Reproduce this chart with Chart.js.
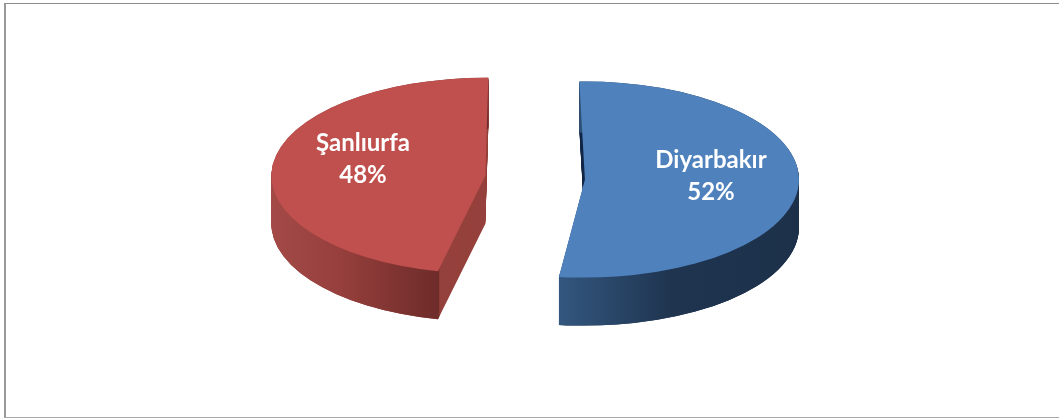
<!DOCTYPE html>
<html>
<head>
<meta charset="utf-8">
<title>Şanlıurfa / Diyarbakır</title>
<script src="https://cdn.jsdelivr.net/npm/chart.js@4"></script>
<style>
html,body{margin:0;padding:0;background:#fff;overflow:hidden}
#wrap{position:relative;width:1059px;height:419px}
canvas{display:block;position:absolute;left:0;top:0}
#frame{position:absolute;left:4px;top:3px;width:1060px;height:413px;border-left:2px solid #9a9a9a;border-top:1px solid #8c8c8c;border-bottom:1px solid #a8a8a8}
</style>
</head>
<body>
<div id="wrap">
<div id="frame"></div>
<canvas id="c" width="1059" height="419"></canvas>
</div>
<script>
const categories = ['Diyarbakır', 'Şanlıurfa'];
const shares = [52, 48];
const sliceColors = ['#4F81BD', '#C0504D'];

const FLATTEN = 0.458, DEPTH = 48, EXPLODE = 50, RIM = 7;
// apparent slice edges after the 3D tilt, degrees clockwise from the top
const tiltedEdges = [[-1.5, 187], [192.8, 360.8]];
const cutColors = ['#15294a', '#95403c'];
const wallStops = [
  [[558, '#33577f'], [670, '#1f3550'], [800, '#1c3049']],
  [[272, '#a34a47'], [340, '#963f3c'], [438, '#6e2c2a']]
];
const labelCentres = [[711, 168], [363, 151]];

const rad = d => (d - 90) * Math.PI / 180;
function paint(ctx, arc, color, inner) {
  const savedOpts = arc.options, savedInner = arc.innerRadius;
  arc.options = {backgroundColor: color, borderColor: color, borderWidth: 0, offset: 0, spacing: 0, circular: true, borderAlign: 'center'};
  arc.innerRadius = inner;
  arc.draw(ctx);
  arc.options = savedOpts;
  arc.innerRadius = savedInner;
}
function flattened(ctx, cy, fn, dy) {
  ctx.save();
  ctx.translate(0, cy + dy);
  ctx.scale(1, FLATTEN);
  ctx.translate(0, -cy);
  fn();
  ctx.restore();
}
const pie3d = {
  id: 'pie3d',
  afterDatasetUpdate(chart, args) {
    chart.getDatasetMeta(args.index).data.forEach((arc, i) => {
      const [a, b] = tiltedEdges[i];
      arc.startAngle = rad(a);
      arc.endAngle = rad(b);
      arc.circumference = arc.endAngle - arc.startAngle;
      const mid = (arc.startAngle + arc.endAngle) / 2;
      arc.x += Math.cos(mid) * EXPLODE;
      arc.y += Math.sin(mid) * EXPLODE;
    });
  },
  beforeDatasetDraw(chart, args) {
    const ctx = chart.ctx, arcs = chart.getDatasetMeta(args.index).data;
    const cy = (chart.chartArea.top + chart.chartArea.bottom) / 2;
    arcs.forEach((arc, i) => {
      const x0 = wallStops[i][0][0], x1 = wallStops[i][2][0];
      const grad = ctx.createLinearGradient(x0, 0, x1, 0);
      wallStops[i].forEach(s => grad.addColorStop((s[0] - x0) / (x1 - x0), s[1]));
      for (let d = DEPTH; d >= 1; d--) flattened(ctx, cy, () => paint(ctx, arc, cutColors[i], 0), d);
      for (let d = DEPTH; d >= 0; d--) flattened(ctx, cy, () => paint(ctx, arc, grad, arc.outerRadius - RIM), d);
    });
    ctx.save();
    ctx.translate(0, cy);
    ctx.scale(1, FLATTEN);
    ctx.translate(0, -cy);
  },
  afterDatasetDraw(chart) {
    const ctx = chart.ctx;
    ctx.restore();
    ctx.save();
    ctx.fillStyle = '#fff';
    ctx.font = 'bold 24px Lato, "Open Sans", sans-serif';
    ctx.textAlign = 'center';
    ctx.textBaseline = 'alphabetic';
    categories.forEach((name, i) => {
      const [x, y] = labelCentres[i];
      ctx.fillText(name, x, y);
      ctx.fillText(shares[i] + '%', x, y + 32);
    });
    ctx.restore();
  }
};

new Chart(document.getElementById('c'), {
  type: 'pie',
  data: {
    labels: categories,
    datasets: [{data: shares, backgroundColor: sliceColors, borderWidth: 0, clip: false}]
  },
  options: {
    responsive: false,
    animation: false,
    radius: 214,
    layout: {padding: {left: 11, right: 0, top: 0, bottom: 62}},
    plugins: {legend: {display: false}, tooltip: {enabled: false}}
  },
  plugins: [pie3d]
});
</script>
</body>
</html>
